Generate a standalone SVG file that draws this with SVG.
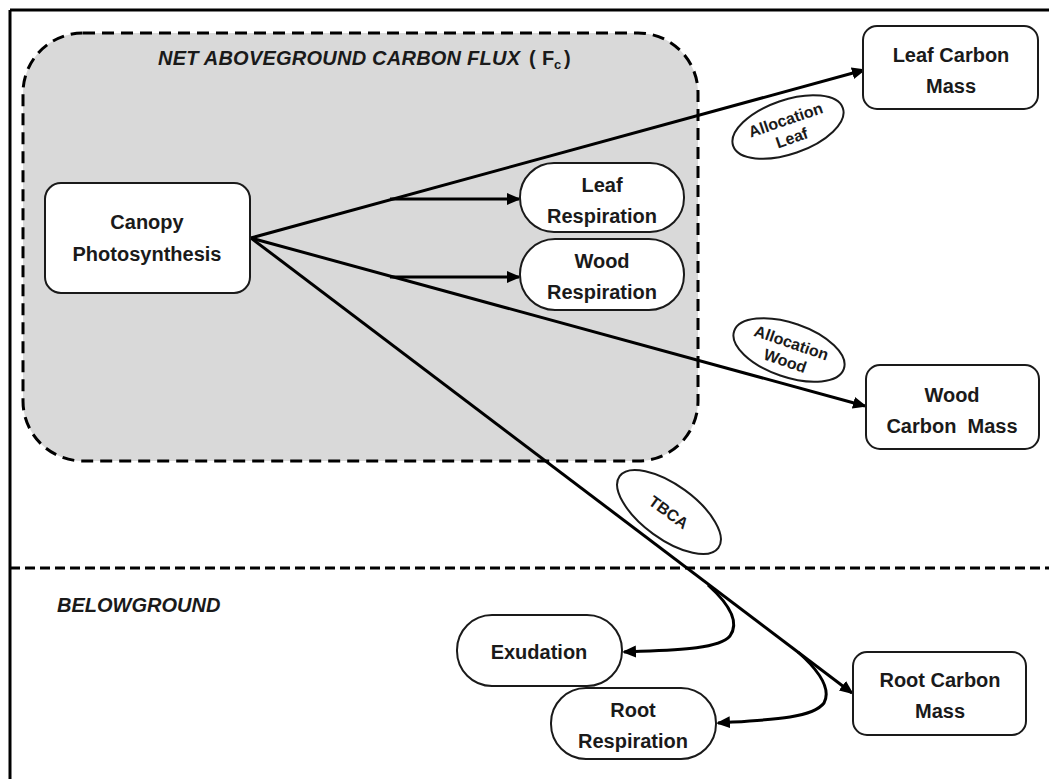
<svg xmlns="http://www.w3.org/2000/svg" width="1049" height="779" viewBox="0 0 1049 779">
<defs>
<marker id="ah" markerUnits="userSpaceOnUse" markerWidth="14" markerHeight="12" refX="12" refY="6" orient="auto">
<path d="M0,0 L14,6 L0,12 z" fill="#000"/>
</marker>
<style>
.node{fill:#fff;stroke:#1a1a1a;stroke-width:2}
.lbl{font-family:"Liberation Sans",Arial,sans-serif;font-weight:bold;font-size:20px;fill:#1a1a1a;text-anchor:middle}
.sm{font-family:"Liberation Sans",Arial,sans-serif;font-weight:bold;font-size:16px;fill:#1a1a1a;text-anchor:middle}
.ttl{font-family:"Liberation Sans",Arial,sans-serif;font-weight:bold;font-style:italic;font-size:20px;fill:#1a1a1a}
.up{font-family:"Liberation Sans",Arial,sans-serif;font-weight:bold;font-size:20px;fill:#1a1a1a}
.con{fill:none;stroke:#000;stroke-width:3}
.oval{fill:#fff;stroke:#1a1a1a;stroke-width:2}
</style>
</defs>
<rect width="1049" height="779" fill="#fff"/>
<g id="frame">
<line x1="10" y1="10" x2="1049" y2="10" stroke="#000" stroke-width="3"/>
<line x1="10" y1="10" x2="10" y2="779" stroke="#000" stroke-width="3"/>
<line x1="10" y1="568" x2="1049" y2="568" stroke="#000" stroke-width="3" stroke-dasharray="10 5"/>
</g>
<g id="aboveground">
<rect x="23" y="33" width="675" height="428" rx="60" fill="#d9d9d9" stroke="#000" stroke-width="3" stroke-dasharray="12 7"/>
<text class="ttl" x="158" y="65" textLength="362" lengthAdjust="spacing">NET ABOVEGROUND CARBON FLUX</text>
<text class="up" y="65"><tspan x="529">(</tspan><tspan x="542">F</tspan><tspan x="554" dy="4" font-size="13">c</tspan><tspan x="564" dy="-4">)</tspan></text>
</g>
<text id="belowground" class="ttl" x="57" y="612">BELOWGROUND</text>
<g id="label-alloc-leaf" transform="translate(788,127) rotate(-19)">
<ellipse class="oval" cx="0" cy="0" rx="58" ry="27"/>
<text class="sm" x="0" y="-2">Allocation</text>
<text class="sm" x="0" y="17">Leaf</text>
</g>
<g id="label-alloc-wood" transform="translate(789,350) rotate(19)">
<ellipse class="oval" cx="0" cy="0" rx="58" ry="27"/>
<text class="sm" x="0" y="-2">Allocation</text>
<text class="sm" x="0" y="17">Wood</text>
</g>
<g id="label-tbca" transform="translate(669,512) rotate(36)">
<ellipse class="oval" cx="0" cy="0" rx="61" ry="27"/>
<text class="sm" x="0" y="6">TBCA</text>
</g>
<g id="connectors">
<line class="con" x1="251" y1="238" x2="864" y2="70" marker-end="url(#ah)"/>
<line class="con" x1="251" y1="238" x2="865" y2="406" marker-end="url(#ah)"/>
<line class="con" x1="251" y1="238" x2="852" y2="693" marker-end="url(#ah)"/>
<line class="con" x1="390" y1="199" x2="519" y2="199" marker-end="url(#ah)"/>
<line class="con" x1="390" y1="277" x2="519" y2="277" marker-end="url(#ah)"/>
<path class="con" d="M708 585 C728 603,740 622,730 636 C718 650,670 650,624 652" marker-end="url(#ah)"/>
<path class="con" d="M798 652 C816 668,832 688,824 703 C812 719,765 720,718 723" marker-end="url(#ah)"/>
</g>
<g id="canopy">
<rect class="node" x="45" y="183" width="205" height="110" rx="16"/>
<text class="lbl" x="147" y="229">Canopy</text>
<text class="lbl" x="147" y="261">Photosynthesis</text>
</g>
<g id="leaf-respiration">
<rect class="node" x="520" y="163" width="164" height="69" rx="34"/>
<text class="lbl" x="602" y="192">Leaf</text>
<text class="lbl" x="602" y="223">Respiration</text>
</g>
<g id="wood-respiration">
<rect class="node" x="520" y="239" width="164" height="71" rx="35"/>
<text class="lbl" x="602" y="268">Wood</text>
<text class="lbl" x="602" y="299">Respiration</text>
</g>
<g id="leaf-carbon-mass">
<rect class="node" x="863" y="26" width="175" height="83" rx="14"/>
<text class="lbl" x="951" y="62">Leaf Carbon</text>
<text class="lbl" x="951" y="93">Mass</text>
</g>
<g id="wood-carbon-mass">
<rect class="node" x="866" y="365" width="173" height="84" rx="14"/>
<text class="lbl" x="952" y="402">Wood</text>
<text class="lbl" x="952" y="433" xml:space="preserve">Carbon  Mass</text>
</g>
<g id="root-carbon-mass">
<rect class="node" x="853" y="652" width="173" height="83" rx="14"/>
<text class="lbl" x="940" y="687">Root Carbon</text>
<text class="lbl" x="940" y="718">Mass</text>
</g>
<g id="exudation">
<rect class="node" x="457" y="615" width="165" height="71" rx="35"/>
<text class="lbl" x="539" y="659">Exudation</text>
</g>
<g id="root-respiration">
<rect class="node" x="551" y="688" width="165" height="71" rx="35"/>
<text class="lbl" x="633" y="717">Root</text>
<text class="lbl" x="633" y="748">Respiration</text>
</g>
</svg>
